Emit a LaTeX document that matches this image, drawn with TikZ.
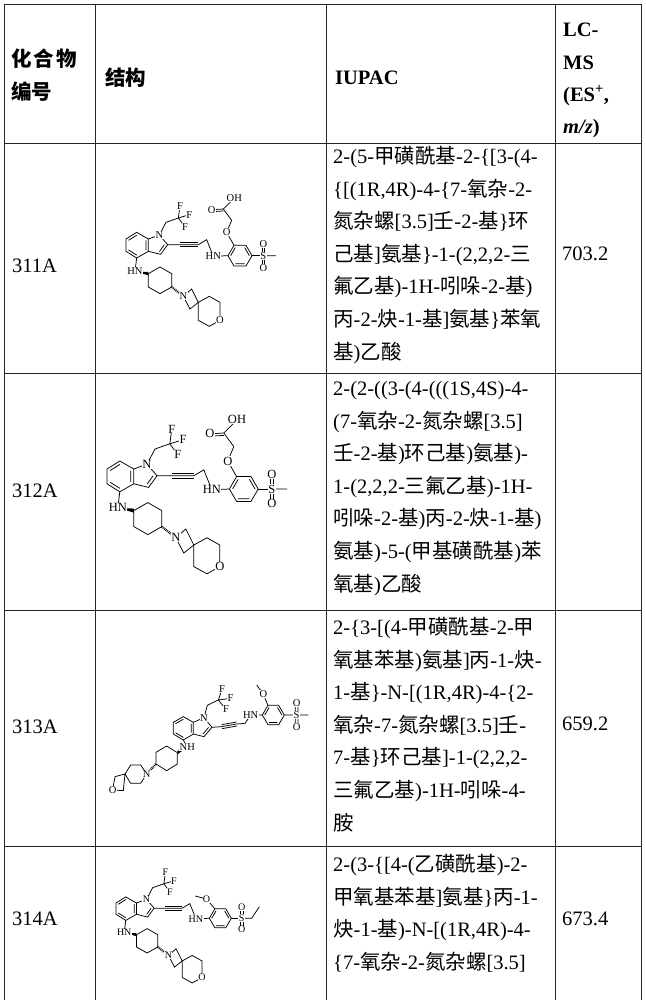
\documentclass[tikz,border=0pt]{standalone}
\usepackage{fontspec}
\setmainfont{Liberation Serif}
\newfontfamily\cjkfont{Noto Sans CJK SC}
\newfontfamily\latinfont{Liberation Serif}
\usetikzlibrary{calc}
\XeTeXinterchartokenstate=1
\newXeTeXintercharclass\CJKcls
\newcount\tmpc \tmpc="4E00
\loop \XeTeXcharclass\tmpc=\CJKcls \advance\tmpc 1 \ifnum\tmpc<"A000 \repeat
\XeTeXinterchartoks 0 \CJKcls={\cjkfont}
\XeTeXinterchartoks 4095 \CJKcls={\cjkfont}
\XeTeXinterchartoks \CJKcls 0={\latinfont}
\XeTeXinterchartoks \CJKcls 4095={\latinfont}
\tikzset{
  grid/.style={line width=0.8pt,draw=black!85},
  txt/.style={anchor=north west,align=left,inner sep=0pt,font=\fontsize{20.5}{32.6}\selectfont},
  hdr/.style={anchor=north west,align=left,inner sep=0pt,font=\fontsize{20.5}{32.3}\selectfont\bfseries},
  atom/.style={fill=white,inner sep=0.4pt},
  bond/.style={line width=0.75pt},
}
\newcommand\molbonds{%
  \coordinate (bA) at (110,248); \coordinate (bB) at (145,268); \coordinate (bC) at (145,305);
  \coordinate (bD) at (110,325); \coordinate (bE) at (78,305); \coordinate (bF) at (78,268);
  \coordinate (bc) at (111.5,286.5);
  \draw[bond] (bA)--(bB)--(bC)--(bD)--(bE)--(bF)--cycle;
  \draw[bond] ($(bF)!.22!(bc)$)--($(bA)!.22!(bc)$) ($(bB)!.22!(bc)$)--($(bC)!.22!(bc)$) ($(bD)!.22!(bc)$)--($(bE)!.22!(bc)$);
  \coordinate (N1) at (178,256); \coordinate (C2) at (203,285); \coordinate (C3) at (182,314); \coordinate (pc) at (170,286);
  \draw[bond] (bB)--(N1)--(C2)--(C3)--(bC);
  \draw[bond] ($(C2)!.3!(pc)$)--($(C3)!.3!(pc)$);
  \coordinate (CF) at (235,205); \coordinate (F1) at (240,168); \coordinate (F2) at (268,195); \coordinate (F3) at (255,232);
  \draw[bond] (N1)--(198,218)--(CF) (CF)--(F1) (CF)--(F2) (CF)--(F3);
  \draw[bond] (C2)--(240,285)--(295,285)--(320,270)--(340,320);
  \draw[bond] (240,279)--(295,279) (240,291)--(295,291);
  \coordinate (NH1) at (340,320);
  \coordinate (r1) at (456,318); \coordinate (r2) at (438,287); \coordinate (r3) at (402,287);
  \coordinate (r4) at (384,318); \coordinate (r5) at (402,349); \coordinate (r6) at (438,349); \coordinate (rc) at (420,318);
  \draw[bond] (r1)--(r2)--(r3)--(r4)--(r5)--(r6)--cycle;
  \draw[bond] ($(r1)!.22!(rc)$)--($(r2)!.22!(rc)$) ($(r3)!.22!(rc)$)--($(r4)!.22!(rc)$) ($(r5)!.22!(rc)$)--($(r6)!.22!(rc)$);
  \draw[bond] (NH1)--(r4);
  \coordinate (S) at (490,318); \coordinate (SO1) at (490,282); \coordinate (SO2) at (490,355);
  \draw[bond] (r1)--(S) ($(S)+(-4,0)$)--($(SO1)+(-4,0)$) ($(S)+(4,0)$)--($(SO1)+(4,0)$)
     ($(S)+(-4,0)$)--($(SO2)+(-4,0)$) ($(S)+(4,0)$)--($(SO2)+(4,0)$);
  \coordinate (NH4) at (105,365);
  \draw[bond] (bD)--(NH4);
  \coordinate (c1) at (145,372); \coordinate (c2) at (180,352); \coordinate (c3) at (215,372);
  \coordinate (c4) at (215,412); \coordinate (c5) at (180,432); \coordinate (c6) at (145,412);
  \draw[bond] (c1)--(c2)--(c3)--(c4)--(c5)--(c6)--cycle;
  \fill (NH4) -- ($(c1)+(0,5)$) -- ($(c1)+(0,-5)$) -- cycle;
  \coordinate (Nz) at (250,440);
  \draw[dash pattern=on 0.8pt off 0.9pt,line width=2.2pt] (c4)--(Nz);
  \coordinate (a1) at (275,418); \coordinate (sp) at (295,458); \coordinate (a2) at (270,478);
  \draw[bond] (Nz)--(a1)--(sp)--(a2)--cycle;
  \coordinate (o1) at (328,440); \coordinate (o2) at (360,458); \coordinate (Ox) at (360,512);
  \coordinate (o4) at (328,530); \coordinate (o5) at (295,512);
  \draw[bond] (sp)--(o1)--(o2)--(Ox)--(o4)--(o5)--cycle;
}
\newcommand\mollabels{%
  \node[atom] at (N1) {N}; \node[atom] at (F1) {F}; \node[atom] at (F2) {F}; \node[atom] at (F3) {F};
  \node[atom] at (NH1) {HN}; \node[atom] at (S) {S}; \node[atom] at (SO1) {O}; \node[atom] at (SO2) {O};
  \node[atom] at (NH4) {HN}; \node[atom] at (Nz) {N}; \node[atom] at (Ox) {O};
}
\newcommand\acid{%
  \coordinate (Oe) at (380,248); \coordinate (AC) at (370,178); \coordinate (Odb) at (335,180); \coordinate (OH) at (403,145);
  \draw[bond] (r3)--(Oe)--(395,212)--(AC)--(OH) (AC)--(Odb) ($(AC)+(0,6)$)--($(Odb)+(0,6)$);
  \draw[bond] (S)--(528,318);
}
\newcommand\acidlabels{\node[atom] at (Oe) {O}; \node[atom] at (Odb) {O}; \node[atom] at (OH) {OH};}
\begin{document}
\begin{tikzpicture}[x=1pt,y=-1pt]
\useasboundingbox (0,0) rectangle (645,1000);
% grid
\draw[grid] (4,1000)--(4,4)--(641,4)--(641,1000);
\foreach \xx in {95,326,555} \draw[grid] (\xx,4)--(\xx,1000);
\foreach \yy in {143,373,610,846} \draw[grid] (4,\yy)--(641,\yy);
% header
\node[hdr] (h1) at (11,49) {\XeTeXinterchartokenstate=0 \cjkfont 化\hspace{2pt}合\hspace{2pt}物\\ \cjkfont 编号};
\node[hdr] (h2) at (105,68) {\XeTeXinterchartokenstate=0 \cjkfont 结构};
\node[hdr] (h3) at (335,71) {IUPAC};
\node[hdr] (h4) at (563,23) {LC-\\MS\\(ES\textsuperscript{+},\\\textit{m/z})};
% ids
\node[txt] (i1) at (12,259) {311A};
\node[txt] (i2) at (12,484) {312A};
\node[txt] (i3) at (12,720) {313A};
\node[txt] (i4) at (12,912) {314A};
% MS
\node[txt] (m1) at (562,247) {703.2};
\node[txt] (m3) at (562,717) {659.2};
\node[txt] (m4) at (562,912) {673.4};
% IUPAC
\node[txt] (t1) at (333,146) {2-(5-甲磺酰基-2-\{[3-(4-\\\{[(1R,4R)-4-\{7-氧杂-2-\\氮杂螺[3.5]壬-2-基\}环\\己基]氨基\}-1-(2,2,2-三\\氟乙基)-1H-吲哚-2-基)\\丙-2-炔-1-基]氨基\}苯氧\\基)乙酸};
\node[txt] (t2) at (333,381) {2-(2-((3-(4-(((1S,4S)-4-\\(7-氧杂-2-氮杂螺[3.5]\\壬-2-基)环己基)氨基)-\\1-(2,2,2-三氟乙基)-1H-\\吲哚-2-基)丙-2-炔-1-基)\\氨基)-5-(甲基磺酰基)苯\\氧基)乙酸};
\node[txt] (t3) at (333,617) {2-\{3-[(4-甲磺酰基-2-甲\\氧基苯基)氨基]丙-1-炔-\\1-基\}-N-[(1R,4R)-4-\{2-\\氧杂-7-氮杂螺[3.5]壬-\\7-基\}环己基]-1-(2,2,2-\\三氟乙基)-1H-吲哚-4-\\胺};
\node[txt] (t4) at (333,854) {2-(3-\{[4-(乙磺酰基)-2-\\甲氧基苯基]氨基\}丙-1-\\炔-1-基)-N-[(1R,4R)-4-\\\{7-氧杂-2-氮杂螺[3.5]};
% 311A
\begin{scope}[shift={(126,239)},scale=0.3333,shift={(-78,-268)},every node/.append style={font=\fontsize{10.5}{10.5}\selectfont}]
\molbonds \acid \mollabels \acidlabels
\end{scope}
% 312A
\begin{scope}[shift={(107,469)},scale=0.4,shift={(-78,-268)},every node/.append style={font=\fontsize{12.5}{12.5}\selectfont}]
\molbonds \acid \mollabels \acidlabels
\end{scope}
% 314A
\begin{scope}[shift={(116,903)},scale=0.305,shift={(-78,-268)},every node/.append style={font=\fontsize{10}{10}\selectfont}]
\molbonds
\coordinate (Oe) at (375,255);
\draw[bond] (r3)--(Oe)--(338,245);
\draw[bond] (S)--(523,318)--(548,280);
\mollabels \node[atom] at (Oe) {O};
\end{scope}
% 313A
\begin{scope}[shift={(100,620)},scale=0.3333,every node/.append style={font=\fontsize{10.5}{10.5}\selectfont}]
\coordinate (bA) at (250,290); \coordinate (bB) at (280,307); \coordinate (bC) at (280,342);
\coordinate (bD) at (250,360); \coordinate (bE) at (220,342); \coordinate (bF) at (220,307); \coordinate (bc) at (250,325);
\draw[bond] (bA)--(bB)--(bC)--(bD)--(bE)--(bF)--cycle;
\draw[bond] ($(bF)!.22!(bc)$)--($(bA)!.22!(bc)$) ($(bB)!.22!(bc)$)--($(bC)!.22!(bc)$) ($(bD)!.22!(bc)$)--($(bE)!.22!(bc)$);
\coordinate (N1) at (312,293); \coordinate (C2) at (336,322); \coordinate (C3) at (312,350); \coordinate (pc) at (302,323);
\draw[bond] (bB)--(N1)--(C2)--(C3)--(bC) ($(C2)!.3!(pc)$)--($(C3)!.3!(pc)$);
\coordinate (CF) at (355,240); \coordinate (F1) at (366,208); \coordinate (F2) at (392,235); \coordinate (F3) at (378,268);
\draw[bond] (N1)--(322,256)--(CF) (CF)--(F1) (CF)--(F2) (CF)--(F3);
\draw[bond] (C2)--(365,320)--(410,312)--(435,310)--(452,286);
\draw[bond] (365,314)--(410,306) (366,326)--(411,318);
\coordinate (NH1) at (452,286);
\coordinate (r1) at (553,285); \coordinate (r2) at (536,256); \coordinate (r3) at (504,256);
\coordinate (r4) at (487,285); \coordinate (r5) at (504,314); \coordinate (r6) at (536,314); \coordinate (rc) at (520,285);
\draw[bond] (r1)--(r2)--(r3)--(r4)--(r5)--(r6)--cycle;
\draw[bond] ($(r1)!.22!(rc)$)--($(r2)!.22!(rc)$) ($(r3)!.22!(rc)$)--($(r4)!.22!(rc)$) ($(r5)!.22!(rc)$)--($(r6)!.22!(rc)$);
\draw[bond] (NH1)--(r4);
\coordinate (Oe) at (490,222);
\draw[bond] (r3)--(Oe)--(470,195);
\coordinate (S) at (590,285); \coordinate (SO1) at (590,250); \coordinate (SO2) at (590,320);
\draw[bond] (r1)--(S)--(625,285) ($(S)+(-4,0)$)--($(SO1)+(-4,0)$) ($(S)+(4,0)$)--($(SO1)+(4,0)$)
   ($(S)+(-4,0)$)--($(SO2)+(-4,0)$) ($(S)+(4,0)$)--($(SO2)+(4,0)$);
\coordinate (NH4) at (262,382);
\draw[bond] (bD)--(NH4);
\coordinate (c1) at (232,398); \coordinate (c2) at (200,378); \coordinate (c3) at (168,397);
\coordinate (c4) at (168,432); \coordinate (c5) at (200,452); \coordinate (c6) at (232,432);
\draw[bond] (c1)--(c2)--(c3)--(c4)--(c5)--(c6)--cycle;
\fill (NH4) -- ($(c1)+(0,5)$) -- ($(c1)+(0,-5)$) -- cycle;
\coordinate (Nz) at (140,462);
\draw[dash pattern=on 0.8pt off 0.9pt,line width=2.2pt] (c4)--(Nz);
\coordinate (p1) at (122,435); \coordinate (p2) at (92,435); \coordinate (sp) at (75,462);
\coordinate (p4) at (92,490); \coordinate (p5) at (122,490);
\draw[bond] (Nz)--(p1)--(p2)--(sp)--(p4)--(p5)--cycle;
\coordinate (q1) at (45,470); \coordinate (Ox) at (38,510); \coordinate (q2) at (70,512);
\draw[bond] (sp)--(q1)--(Ox)--(q2)--cycle;
\node[atom] at (N1) {N}; \node[atom] at (F1) {F}; \node[atom] at (F2) {F}; \node[atom] at (F3) {F};
\node[atom] at (NH1) {HN}; \node[atom] at (S) {S}; \node[atom] at (SO1) {O}; \node[atom] at (SO2) {O};
\node[atom] at (Oe) {O}; \node[atom] at (NH4) {NH}; \node[atom] at (Nz) {N}; \node[atom] at (Ox) {O};
\end{scope}
\end{tikzpicture}
\end{document}
